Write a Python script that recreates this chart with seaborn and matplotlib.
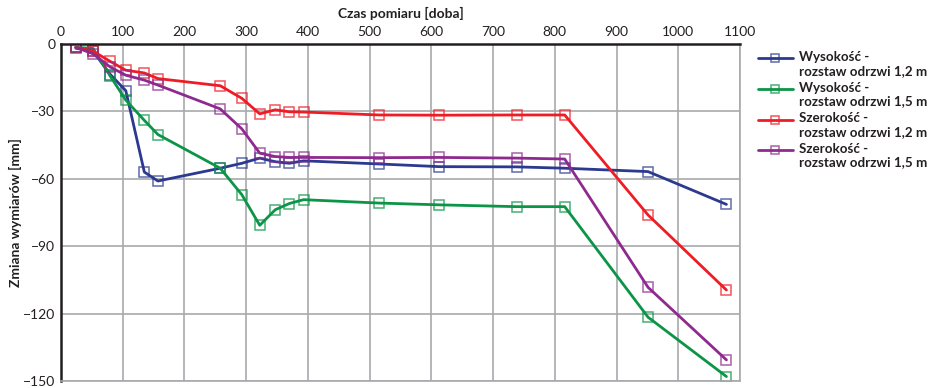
import matplotlib
matplotlib.use("Agg")
import matplotlib.pyplot as plt
import matplotlib.colors as mcolors
from matplotlib.legend_handler import HandlerLine2D
import seaborn as sns
import pandas as pd

# Measurement days
days = [24, 52, 80, 105, 135, 157, 258, 293, 322, 347, 370, 393, 515, 613, 738, 816, 951, 1078]

# Dimension change [mm]
height_12 = [-1.9, -3.3, -13.6, -20.8, -57.0, -61.0, -55.3, -53.1, -50.8, -52.4, -53.1, -52.0, -53.4, -54.6, -54.7, -55.3, -56.8, -71.4]
height_15 = [-1.5, -2.0, -14.4, -25.0, -34.0, -40.3, -55.3, -67.1, -80.7, -73.8, -71.0, -69.3, -70.8, -71.6, -72.4, -72.4, -121.6, -148.0]
width_12 = [-1.5, -3.2, -7.8, -11.7, -12.9, -15.4, -18.6, -24.2, -31.1, -29.3, -30.2, -30.3, -31.6, -31.7, -31.6, -31.6, -76.1, -109.5]
width_15 = [-1.5, -4.4, -10.3, -13.9, -16.1, -18.3, -28.9, -37.8, -48.6, -50.1, -50.5, -50.5, -50.6, -50.5, -50.8, -51.2, -108.3, -140.6]

labels = [
    "Wysokość -\nrozstaw odrzwi 1,2 m",
    "Wysokość -\nrozstaw odrzwi 1,5 m",
    "Szerokość -\nrozstaw odrzwi 1,2 m",
    "Szerokość -\nrozstaw odrzwi 1,5 m",
]
colors = ["#2B3990", "#0C9447", "#EE1C25", "#8E2A8F"]
x_ticks = list(range(0, 1101, 100))
y_ticks = list(range(-150, 1, 30))

series = [height_12, height_15, width_12, width_15]
df = pd.concat(
    [pd.DataFrame({"doba": days, "mm": vals, "seria": lab}) for vals, lab in zip(series, labels)],
    ignore_index=True,
)


class FirstLineHandler(HandlerLine2D):
    """Legend handle aligned with the first line of a two-line label."""

    def create_artists(self, legend, orig_handle, xdescent, ydescent,
                       width, height, fontsize, trans):
        return super().create_artists(legend, orig_handle, xdescent,
                                      ydescent - 0.62 * fontsize * legend.figure.dpi / 72,
                                      width, height, fontsize, trans)


sns.set_style("white")
plt.rcParams["font.family"] = ["Lato", "DejaVu Sans"]

fig = plt.figure(figsize=(9.34, 3.88), dpi=100)
ax = fig.add_axes([0.0653, 0.018, 0.7270, 0.8687])

handles = []
for lab, col in zip(labels, colors):
    edge = mcolors.to_rgba(col, 0.75)
    sub = df[df["seria"] == lab]
    sns.lineplot(data=sub, x="doba", y="mm", ax=ax, color=col, lw=2.0,
                 marker="s", markersize=6.5, markerfacecolor="none",
                 markeredgecolor=edge, markeredgewidth=1.1, legend=False)
    handles.append(plt.Line2D([], [], color=col, lw=2.0, marker="s", markersize=6,
                              markerfacecolor="none", markeredgecolor=edge,
                              markeredgewidth=1.1))

ax.set_xlim(0, 1100)
ax.set_ylim(-150, 0)
ax.set_xticks(x_ticks)
ax.set_yticks(y_ticks)
ax.xaxis.tick_top()
ax.xaxis.set_label_position("top")
ax.tick_params(axis="both", labelsize=10, length=0, pad=4, colors="#231F20")
ax.grid(True, color="#A7A9AC", lw=1.2)
ax.set_axisbelow(True)

for side in ("top", "left"):
    ax.spines[side].set_color("#231F20")
    ax.spines[side].set_linewidth(1.8)
for side in ("right", "bottom"):
    ax.spines[side].set_color("#A7A9AC")
    ax.spines[side].set_linewidth(1.2)

ax.set_xlabel("Czas pomiaru [doba]", fontsize=10, fontweight="bold", labelpad=6, color="#231F20")
ax.set_ylabel("Zmiana wymiarów [mm]", fontsize=10, fontweight="bold", labelpad=1, color="#231F20")

leg = fig.legend(handles, labels, loc="upper left", bbox_to_anchor=(0.806, 0.882),
                 frameon=False, fontsize=9.6, handlelength=2.6, handletextpad=0.45,
                 labelspacing=0.38, borderaxespad=0,
                 handler_map={plt.Line2D: FirstLineHandler()})
for t in leg.get_texts():
    t.set_fontweight("bold")
    t.set_color("#231F20")
    t.set_linespacing(1.15)

fig.savefig("out.png", dpi=100)
